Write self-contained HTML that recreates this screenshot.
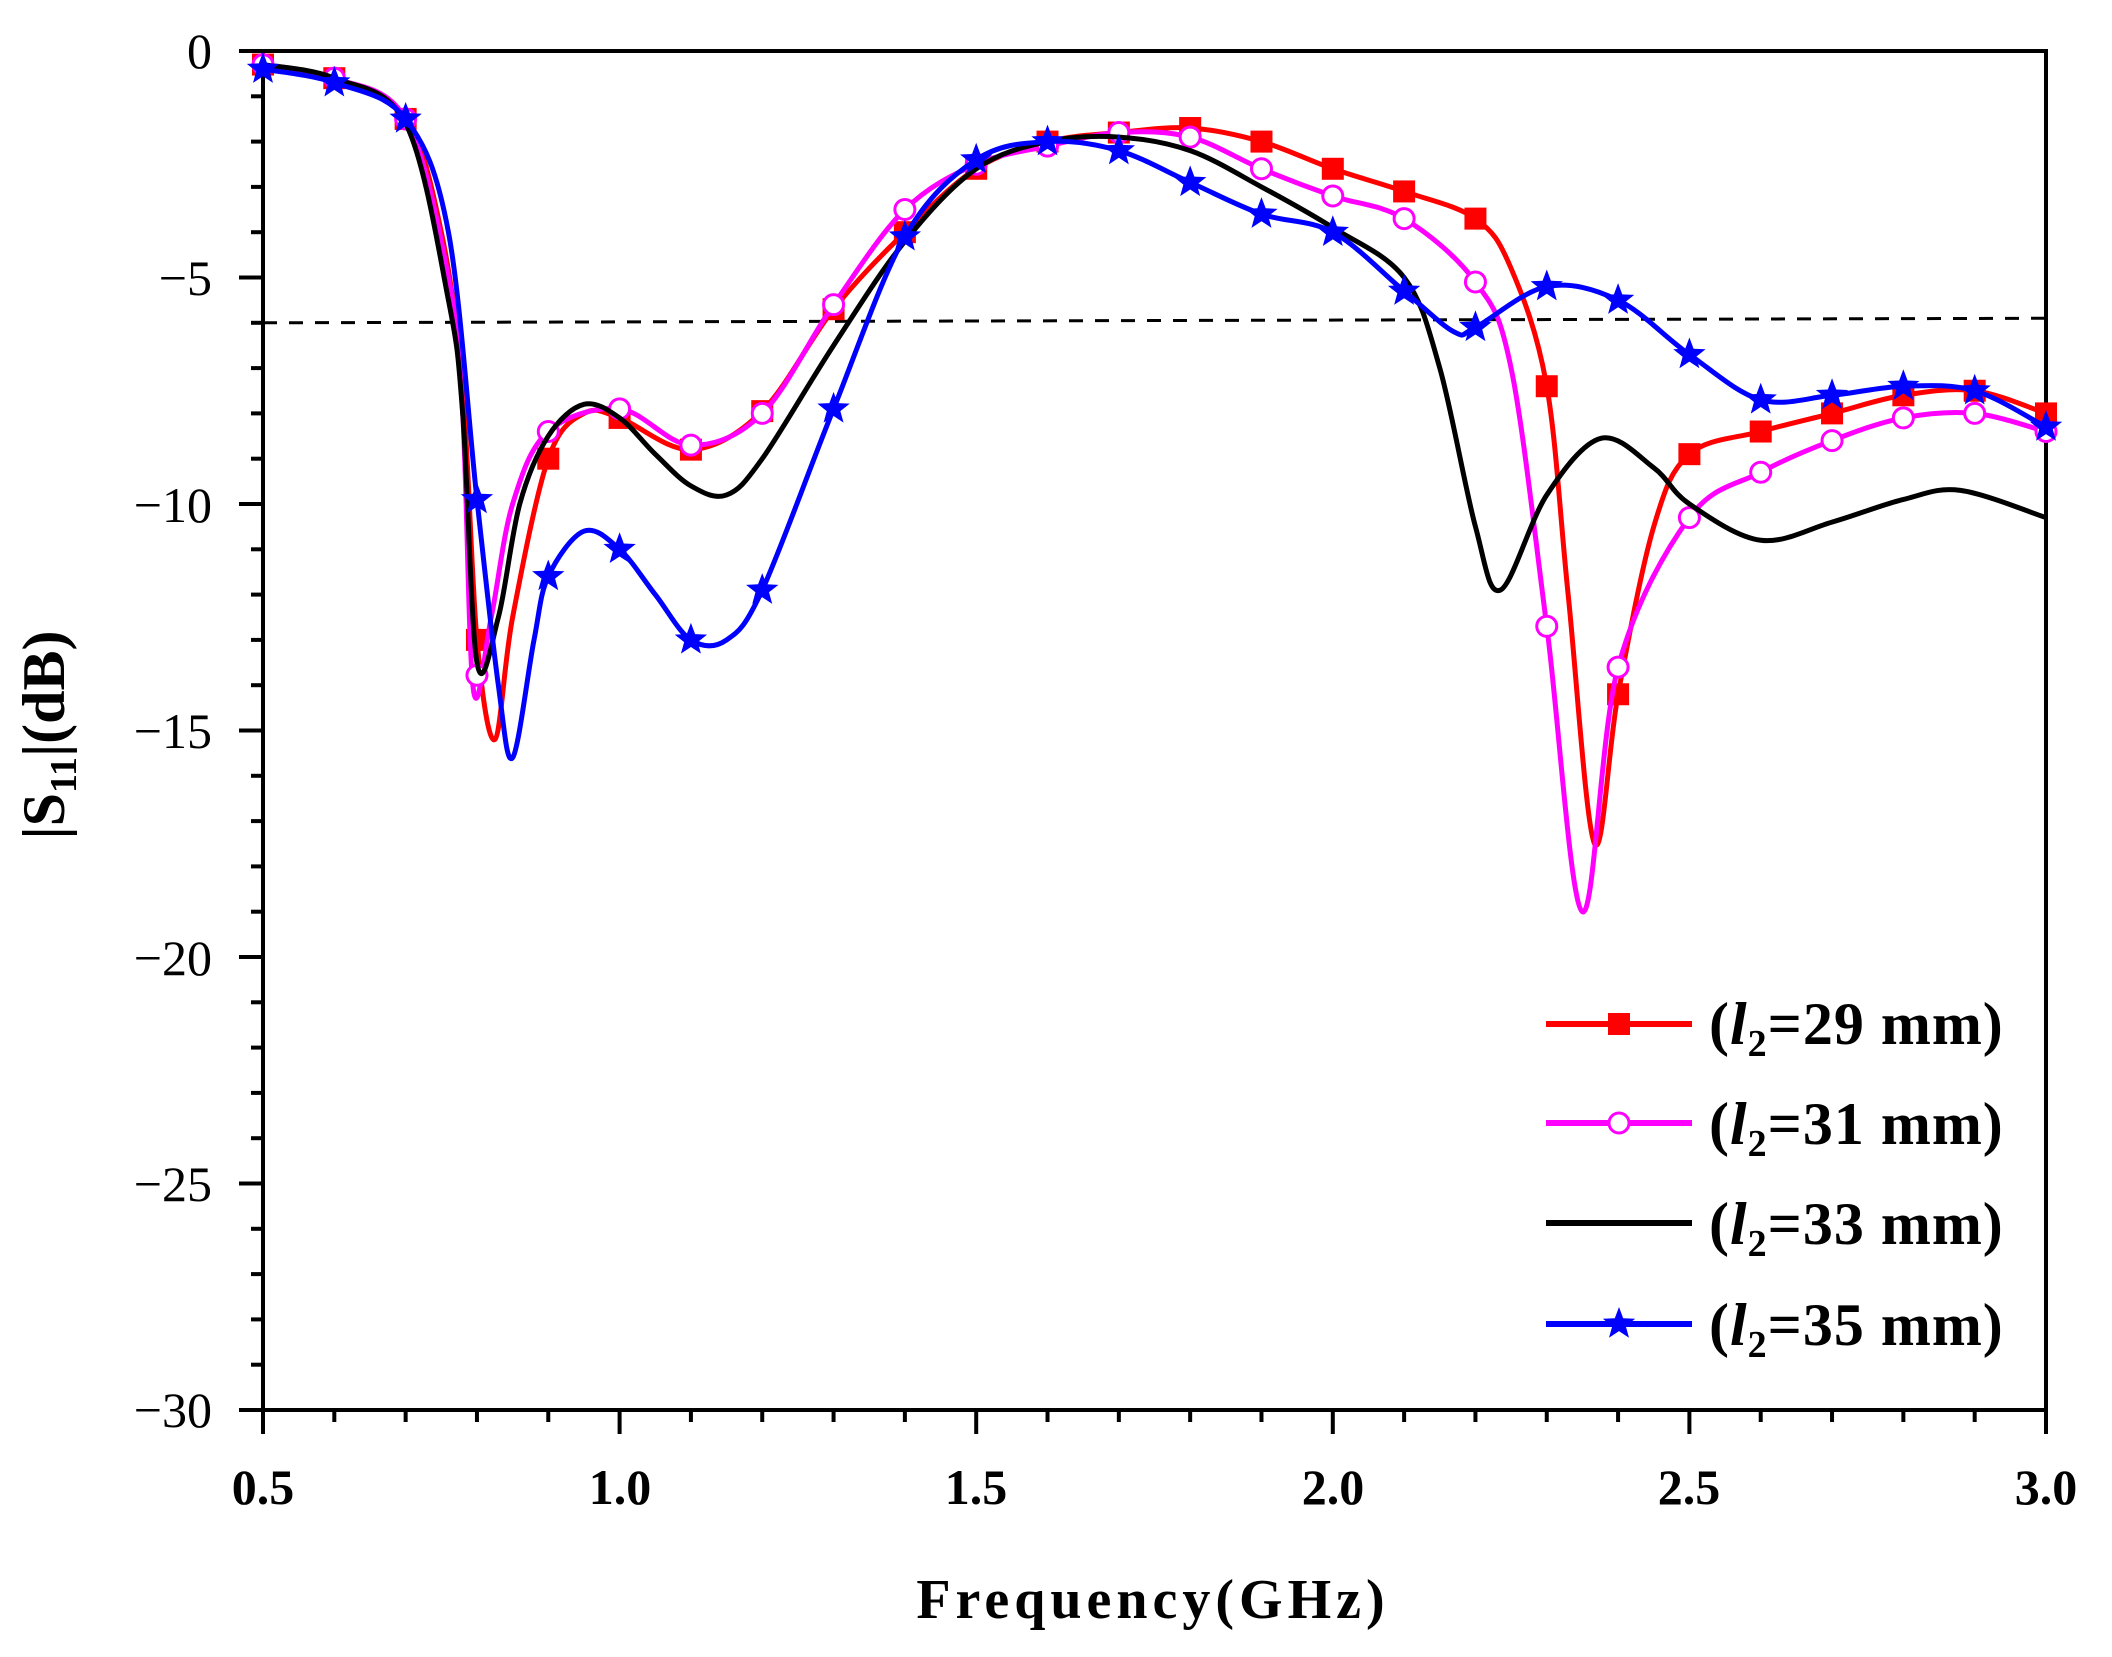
<!DOCTYPE html>
<html><head><meta charset="utf-8"><style>
html,body{margin:0;padding:0;background:#fff;}
svg{display:block;}
text{font-family:"Liberation Serif",serif;}
</style></head><body>
<svg id="s" width="2112" height="1657" viewBox="0 0 2112 1657" xmlns="http://www.w3.org/2000/svg">
<rect width="2112" height="1657" fill="#fff"/>
<g id="axes"></g>
<g id="series"></g>
<g font-size="50" fill="#000" text-anchor="end">
<text x="212" y="68">0</text>
<text x="212" y="295">−5</text>
<text x="212" y="522">−10</text>
<text x="212" y="748">−15</text>
<text x="212" y="975">−20</text>
<text x="212" y="1201">−25</text>
<text x="212" y="1427">−30</text>
</g>
<g font-size="50" fill="#000" text-anchor="middle" font-weight="bold">
<text x="263" y="1504">0.5</text>
<text x="620" y="1504">1.0</text>
<text x="976" y="1504">1.5</text>
<text x="1333" y="1504">2.0</text>
<text x="1689" y="1504">2.5</text>
<text x="2046" y="1504">3.0</text>
</g>
<text x="1153" y="1618" font-size="56" font-weight="bold" text-anchor="middle" letter-spacing="5">Frequency(GHz)</text>
<text transform="translate(64,735) rotate(-90)" font-size="60" font-weight="bold" text-anchor="middle">|S<tspan font-size="38" dy="12">11</tspan><tspan dy="-12">|(dB)</tspan></text>
<g font-size="60" font-weight="bold" fill="#000" letter-spacing="1">
<text x="1709" y="1044">(<tspan font-style="italic">l</tspan><tspan font-size="38" dy="12">2</tspan><tspan dy="-12">=29 mm)</tspan></text>
<text x="1709" y="1144">(<tspan font-style="italic">l</tspan><tspan font-size="38" dy="12">2</tspan><tspan dy="-12">=31 mm)</tspan></text>
<text x="1709" y="1244">(<tspan font-style="italic">l</tspan><tspan font-size="38" dy="12">2</tspan><tspan dy="-12">=33 mm)</tspan></text>
<text x="1709" y="1345">(<tspan font-style="italic">l</tspan><tspan font-size="38" dy="12">2</tspan><tspan dy="-12">=35 mm)</tspan></text>
</g>
</svg>
<script>
const L=263,R=2046,T=51,B=1410;
const X=f=>L+(f-0.5)*(R-L)/2.5, Y=d=>T+(-d)*(B-T)/30;
const NS="http://www.w3.org/2000/svg";
function el(p,n,a){const e=document.createElementNS(NS,n);for(const k in a)e.setAttribute(k,a[k]);p.appendChild(e);return e;}
const ax=document.getElementById('axes');
el(ax,'rect',{x:L,y:T,width:R-L,height:B-T,fill:'none',stroke:'#000','stroke-width':4});
for(let i=0;i<=25;i++){const x=X(0.5+i*0.1);const maj=i%5==0;el(ax,'line',{x1:x,y1:B,x2:x,y2:B+(maj?24:12),stroke:'#000','stroke-width':4});}
for(let i=0;i<=30;i++){const y=Y(-i);const maj=i%5==0;el(ax,'line',{x1:L,y1:y,x2:L-(maj?24:12),y2:y,stroke:'#000','stroke-width':4});}
el(ax,'line',{x1:L,y1:Y(-6),x2:R,y2:Y(-5.9),stroke:'#000','stroke-width':3,'stroke-dasharray':'14 12'});
const red=[[0.5,-0.3],[0.6,-0.6],[0.7,-1.5],[0.75,-4],[0.78,-7.5],[0.8,-13],[0.825,-15.2],[0.85,-12.5],[0.9,-9.0],[0.95,-8.0],[1.0,-8.1],[1.1,-8.8],[1.2,-7.95],[1.3,-5.7],[1.4,-4],[1.5,-2.6],[1.6,-2.0],[1.7,-1.8],[1.8,-1.7],[1.9,-2.0],[2.0,-2.6],[2.1,-3.1],[2.2,-3.7],[2.25,-4.8],[2.3,-7.4],[2.33,-12],[2.367,-17.5],[2.4,-14.2],[2.45,-10.5],[2.5,-8.9],[2.6,-8.4],[2.7,-8.0],[2.8,-7.6],[2.9,-7.5],[3.0,-8.0]];
const mag=[[0.5,-0.3],[0.6,-0.6],[0.7,-1.5],[0.76,-5],[0.78,-8],[0.795,-14.1],[0.82,-12.5],[0.85,-10],[0.9,-8.4],[1.0,-7.9],[1.1,-8.7],[1.2,-8.0],[1.3,-5.6],[1.4,-3.5],[1.5,-2.5],[1.6,-2.1],[1.7,-1.8],[1.8,-1.9],[1.9,-2.6],[2.0,-3.2],[2.1,-3.7],[2.2,-5.1],[2.25,-7],[2.3,-12.7],[2.35,-19],[2.4,-13.6],[2.5,-10.3],[2.6,-9.3],[2.7,-8.6],[2.8,-8.1],[2.9,-8.0],[3.0,-8.4]];
const blk=[[0.5,-0.3],[0.6,-0.6],[0.7,-1.6],[0.76,-5.5],[0.78,-8],[0.8,-13.5],[0.83,-12.5],[0.86,-10],[0.9,-8.5],[0.95,-7.8],[1.0,-8.1],[1.05,-8.9],[1.1,-9.6],[1.15,-9.8],[1.2,-9.0],[1.3,-6.5],[1.4,-4.2],[1.5,-2.6],[1.6,-2.0],[1.7,-1.9],[1.8,-2.2],[1.9,-3.0],[2.0,-3.9],[2.1,-5.0],[2.15,-7],[2.2,-10.5],[2.235,-11.9],[2.3,-9.8],[2.376,-8.55],[2.45,-9.2],[2.5,-10],[2.6,-10.8],[2.7,-10.4],[2.8,-9.9],[2.88,-9.7],[3.0,-10.3]];
const blu=[[0.5,-0.4],[0.6,-0.7],[0.7,-1.5],[0.76,-4],[0.8,-9.9],[0.83,-14],[0.85,-15.6],[0.88,-13],[0.9,-11.6],[0.95,-10.6],[1.0,-11.0],[1.05,-12],[1.1,-13],[1.15,-13],[1.2,-11.9],[1.3,-7.9],[1.4,-4.1],[1.5,-2.4],[1.6,-2.0],[1.7,-2.2],[1.8,-2.9],[1.9,-3.6],[2.0,-4.0],[2.1,-5.3],[2.17,-6.2],[2.2,-6.1],[2.3,-5.2],[2.4,-5.5],[2.5,-6.7],[2.6,-7.7],[2.7,-7.6],[2.8,-7.4],[2.9,-7.5],[3.0,-8.3]];
function path(d){const p=d.map(a=>[X(a[0]),Y(a[1])]);let s='M'+p[0][0]+','+p[0][1];
for(let i=0;i<p.length-1;i++){const p0=p[i-1]||p[i],p1=p[i],p2=p[i+1],p3=p[i+2]||p2;
const c1=[p1[0]+(p2[0]-p0[0])/6,p1[1]+(p2[1]-p0[1])/6],c2=[p2[0]-(p3[0]-p1[0])/6,p2[1]-(p3[1]-p1[1])/6];
s+=`C${c1[0]},${c1[1]} ${c2[0]},${c2[1]} ${p2[0]},${p2[1]}`;}return s;}
function interp(d,f){for(let i=0;i<d.length-1;i++){if(f>=d[i][0]-1e-9&&f<=d[i+1][0]+1e-9){const t=(f-d[i][0])/(d[i+1][0]-d[i][0]);return d[i][1]+t*(d[i+1][1]-d[i][1]);}}return d[d.length-1][1];}
const sg=document.getElementById('series');
function star(g,cx,cy,r,c){let pts=[];for(let k=0;k<10;k++){const a=-Math.PI/2+k*Math.PI/5;const rr=k%2?r*0.42:r;pts.push((cx+rr*Math.cos(a))+','+(cy+rr*Math.sin(a)));}el(g,'polygon',{points:pts.join(' '),fill:c});}
function marker(g,type,cx,cy){
if(type=='sq')el(g,'rect',{x:cx-11,y:cy-11,width:22,height:22,fill:'#f00'});
if(type=='ci')el(g,'circle',{cx:cx,cy:cy,r:10,fill:'#fff',stroke:'#f0f','stroke-width':3});
if(type=='st')star(g,cx,cy,17,'#00f');}
function series(d,c,type){el(sg,'path',{d:path(d),fill:'none',stroke:c,'stroke-width':5,'stroke-linejoin':'round'});
if(type)for(let i=0;i<=25;i++){const f=0.5+i*0.1;marker(sg,type,X(f),Y(interp(d,f)));}}
series(red,'#f00','sq');series(mag,'#f0f','ci');series(blk,'#000',null);series(blu,'#00f','st');
const leg=[[1024,'#f00','sq'],[1123,'#f0f','ci'],[1223,'#000',null],[1324,'#00f','st']];
for(const [y,c,t] of leg){el(sg,'line',{x1:1546,y1:y,x2:1692,y2:y,stroke:c,'stroke-width':6});if(t)marker(sg,t,1619,y);}
</script>
</body></html>
